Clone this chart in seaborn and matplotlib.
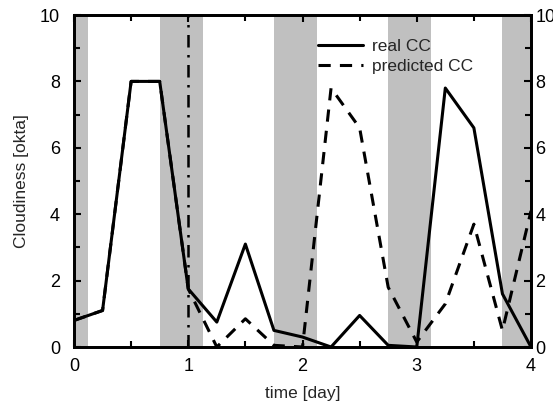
import matplotlib
matplotlib.use("Agg")
import matplotlib.pyplot as plt
import seaborn as sns
import pandas as pd
import numpy as np
from matplotlib.ticker import MultipleLocator

time_day = [0, 0.25, 0.5, 0.75, 1.0, 1.25, 1.5, 1.75, 2.0, 2.25, 2.5, 2.75, 3.0, 3.25, 3.5, 3.75, 4.0]
real_cc = [0.8, 1.1, 8.0, 8.0, 1.75, 0.75, 3.1, 0.5, 0.3, 0.0, 0.95, 0.05, 0.0, 7.8, 6.6, 1.6, 0.0]
predicted_cc = [0.8, 1.1, 8.0, 8.0, 1.75, 0.0, 0.85, 0.05, 0.0, 7.8, 6.6, 1.8, 0.15, 1.3, 3.7, 0.5, 4.1]
night_start = [0.0, 0.75, 1.75, 2.75, 3.75]
night_end = [0.125, 1.125, 2.125, 3.125, 4.0]
forecast_start = 1.0

sns.set_theme(style="ticks")
plt.rcParams['font.family'] = ['Liberation Sans', 'DejaVu Sans']

df = pd.DataFrame({
    "time": time_day * 2,
    "cc": real_cc + predicted_cc,
    "series": ["real CC"] * len(time_day) + ["predicted CC"] * len(time_day),
})

fig = plt.figure(figsize=(5.53, 4.05), dpi=100)
ax = fig.add_axes([74/553, 1 - 347/405, (531-74)/553, (347-15)/405])

for s, e in zip(night_start, night_end):
    ax.axvspan(s, e, color="#c0c0c0", lw=0, zorder=0)

sns.lineplot(data=df, x="time", y="cc", hue="series", style="series",
             palette={"real CC": "black", "predicted CC": "black"},
             dashes={"real CC": "", "predicted CC": (4, 3)},
             linewidth=2.2, ax=ax, zorder=3)

ax.axvline(forecast_start, color="black", lw=1.8, linestyle=(0, (5, 3, 1, 3)), zorder=2)

ax.set_xlim(0, 4)
ax.set_ylim(0, 10)
ax.xaxis.set_major_locator(MultipleLocator(1))
ax.xaxis.set_minor_locator(MultipleLocator(0.5))
ax.yaxis.set_major_locator(MultipleLocator(2))
ax.yaxis.set_minor_locator(MultipleLocator(1))
ax.tick_params(which="both", direction="in", top=True, right=True,
               width=1.5, labelsize=13, colors="black")
ax.tick_params(which="major", length=5)
ax.tick_params(which="minor", length=4)
ax.tick_params(axis="y", which="major", pad=10)
ax.tick_params(axis="x", which="major", pad=8)
for sp in ax.spines.values():
    sp.set_linewidth(2)
    sp.set_color("black")
    sp.set_visible(True)

ax2 = ax.twinx()
ax2.set_ylim(0, 10)
ax2.yaxis.set_major_locator(MultipleLocator(2))
ax2.yaxis.set_minor_locator(MultipleLocator(1))
ax2.tick_params(which="both", direction="in", right=True, left=False,
                width=1.5, labelsize=13, colors="black", pad=3)
ax2.tick_params(which="major", length=5)
ax2.tick_params(which="minor", length=4)
for sp in ax2.spines.values():
    sp.set_linewidth(2)
    sp.set_color("black")

ax.set_xlabel("time [day]", fontsize=12.5, labelpad=8)
ax.set_ylabel("Cloudiness [okta]", fontsize=12.5, labelpad=8)

leg = ax.legend(loc="upper left", bbox_to_anchor=(0.5, 0.975), frameon=False,
                fontsize=12.5, handlelength=2.6, handletextpad=0.5, labelspacing=0.3)
leg.set_title(None)

fig.savefig("out.png", dpi=100)
